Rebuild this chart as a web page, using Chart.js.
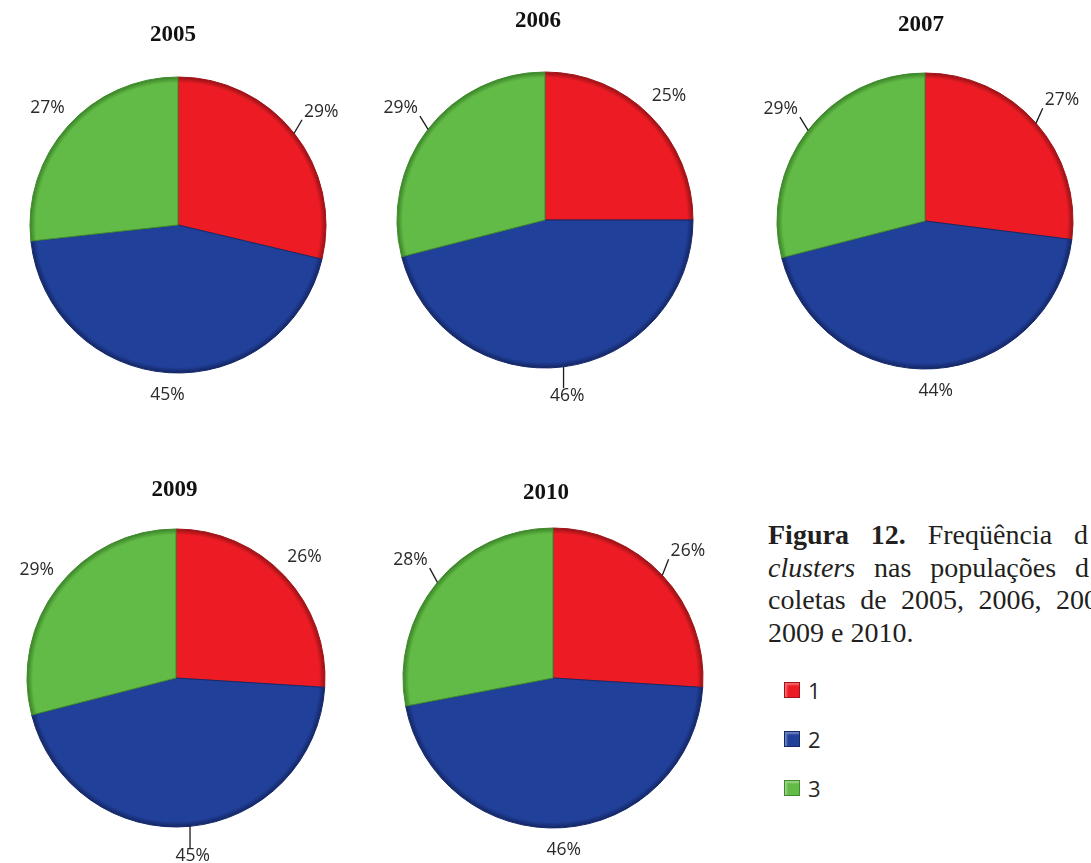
<!DOCTYPE html>
<html>
<head>
<meta charset="utf-8">
<title>Frequência dos clusters</title>
<script src="https://cdn.jsdelivr.net/npm/chart.js@4.4.1/dist/chart.umd.min.js"></script>
<style>
    body {
        margin: 0;
        width: 1091px;
        height: 863px;
        overflow: hidden;
        background: #fff;
        position: relative;
    }
    canvas.pie { position: absolute; }
    #caption {
        position: absolute;
        left: 768px;
        top: 519px;
        font-family: 'Liberation Serif', 'Times New Roman', serif;
        font-size: 28px;
        line-height: 32.5px;
        color: #231f20;
    }
    #caption div {
        white-space: nowrap;
        text-align: justify;
        text-align-last: justify;
    }
    #legend {
        position: absolute;
        left: 784px;
        top: 682px;
        font-family: 'Open Sans', sans-serif;
        font-size: 22px;
        color: #262626;
    }
    .legend-item {
        display: flex;
        align-items: center;
        height: 16px;
        margin-bottom: 33px;
    }
    .legend-box {
        width: 16px;
        height: 16px;
        margin-right: 8px;
        box-sizing: border-box;
    }
</style>
</head>
<body>

<canvas class="pie" id="pie2005" width="380" height="440"></canvas>
<canvas class="pie" id="pie2006" width="380" height="440"></canvas>
<canvas class="pie" id="pie2007" width="380" height="440"></canvas>
<canvas class="pie" id="pie2009" width="380" height="440"></canvas>
<canvas class="pie" id="pie2010" width="380" height="440"></canvas>

<div id="caption">
    <div style="width:320px"><b>Figura 12.</b> Freqüência d</div>
    <div style="width:321px"><i>clusters</i> nas populações d</div>
    <div style="width:330px">coletas de 2005, 2006, 200</div>
    <div style="text-align:left;text-align-last:left">2009 e 2010.</div>
</div>

<div id="legend"></div>

<script>
// Cluster frequencies (%) per sampling year
const clusters = ['1', '2', '3'];
const freq2005 = [29, 45, 27];
const freq2006 = [25, 46, 29];
const freq2007 = [27, 44, 29];
const freq2009 = [26, 45, 29];
const freq2010 = [26, 46, 28];

const clusterColors = ['#ED1C24', '#21409A', '#62BB46'];
const edgeColors = ['#A01318', '#15296A', '#3F8A2C'];

// where each pie sits on the page and which labels get a leader line
const panels = [
    { year: '2005', values: freq2005, cx: 178, cy: 224.5, r: 148, titleDx: -5, titleDy: -190, leaders: [true, false, false] },
    { year: '2006', values: freq2006, cx: 545, cy: 220, r: 148, titleDx: -7, titleDy: -198.5, leaders: [false, true, true] },
    { year: '2007', values: freq2007, cx: 925, cy: 221, r: 148, titleDx: -4, titleDy: -195.5, leaders: [true, false, true] },
    { year: '2009', values: freq2009, cx: 175.5, cy: 678, r: 149, titleDx: -1.5, titleDy: -187.5, leaders: [false, true, false] },
    { year: '2010', values: freq2010, cx: 553, cy: 678, r: 150, titleDx: -7, titleDy: -185, leaders: [true, false, true] }
];

const CANVAS_W = 380;
const CANVAS_H = 440;

// year title above the pie + percentage labels around it
const pieText = {
    id: 'pieText',
    afterDatasetsDraw(chart, args, opts) {
        const { ctx } = chart;
        const meta = chart.getDatasetMeta(0);
        const values = chart.data.datasets[0].data;
        if (!meta.data.length) return;

        const first = meta.data[0];
        const cx = first.x, cy = first.y;

        ctx.save();
        ctx.fillStyle = '#111';
        ctx.font = 'bold 23px "Liberation Serif", "Times New Roman", serif';
        ctx.textAlign = 'center';
        ctx.textBaseline = 'middle';
        ctx.fillText(opts.title, cx + opts.titleDx, cy + opts.titleDy);

        ctx.font = '17.5px "Open Sans", sans-serif';
        ctx.fillStyle = '#2a2a2a';
        ctx.strokeStyle = '#1a1a1a';
        ctx.lineWidth = 1.3;

        meta.data.forEach((arc, i) => {
            const { x, y, startAngle, endAngle, outerRadius } =
                arc.getProps(['x', 'y', 'startAngle', 'endAngle', 'outerRadius'], true);
            const mid = (startAngle + endAngle) / 2;
            const leader = opts.leaders[i];
            const upper = Math.sin(mid) < 0;
            const dist = outerRadius * (leader ? 1.2 : 1.15) + (upper ? 5 : 0);
            const lx = x + Math.cos(mid) * dist;
            const ly = y + Math.sin(mid) * dist;
            const text = values[i] + '%';

            if (leader) {
                const w = ctx.measureText(text).width;
                const h = 16;
                const ax = x + Math.cos(mid) * outerRadius;
                const ay = y + Math.sin(mid) * outerRadius;
                const bx = Math.min(Math.max(ax, lx - w / 2 - 2), lx + w / 2 + 2);
                const by = Math.min(Math.max(ay, ly - h / 2), ly + h / 2);
                ctx.beginPath();
                ctx.moveTo(ax, ay);
                ctx.lineTo(bx, by);
                ctx.stroke();
            }
            ctx.fillText(text, lx, ly);
        });
        ctx.restore();
    }
};

// flat slice colour with a thin darker rim
function sliceFill(context) {
    const i = context.dataIndex;
    const chart = context.chart;
    const area = chart.chartArea;
    const r = chart.options.radius;
    if (!area || typeof r !== 'number') return clusterColors[i];
    const x = (area.left + area.right) / 2;
    const y = (area.top + area.bottom) / 2;
    const g = chart.ctx.createRadialGradient(x, y, 0, x, y, r);
    g.addColorStop(0, clusterColors[i]);
    g.addColorStop(0.96, clusterColors[i]);
    g.addColorStop(0.995, edgeColors[i]);
    g.addColorStop(1, edgeColors[i]);
    return g;
}

panels.forEach(p => {
    const canvas = document.getElementById('pie' + p.year);
    canvas.style.left = (p.cx - CANVAS_W / 2) + 'px';
    canvas.style.top = (p.cy - CANVAS_H / 2) + 'px';

    new Chart(canvas.getContext('2d'), {
        type: 'pie',
        data: {
            labels: clusters,
            datasets: [{
                data: p.values,
                backgroundColor: sliceFill,
                borderColor: (context) => edgeColors[context.dataIndex],
                borderWidth: 1
            }]
        },
        options: {
            responsive: false,
            animation: false,
            radius: p.r,
            rotation: 0,
            events: [],
            plugins: {
                legend: { display: false },
                tooltip: { enabled: false },
                title: { display: false },
                pieText: {
                    title: p.year,
                    titleDx: p.titleDx,
                    titleDy: p.titleDy,
                    leaders: p.leaders
                }
            }
        },
        plugins: [pieText]
    });
});

// legend for the cluster colours
const legend = document.getElementById('legend');
clusters.forEach((c, i) => {
    const item = document.createElement('div');
    item.className = 'legend-item';
    const box = document.createElement('span');
    box.className = 'legend-box';
    box.style.background = clusterColors[i];
    box.style.border = '1px solid ' + edgeColors[i];
    box.style.boxShadow = 'inset 2px 2px 2px rgba(255,255,255,0.35)';
    const label = document.createElement('span');
    label.textContent = c;
    item.appendChild(box);
    item.appendChild(label);
    legend.appendChild(item);
});
</script>
</body>
</html>
